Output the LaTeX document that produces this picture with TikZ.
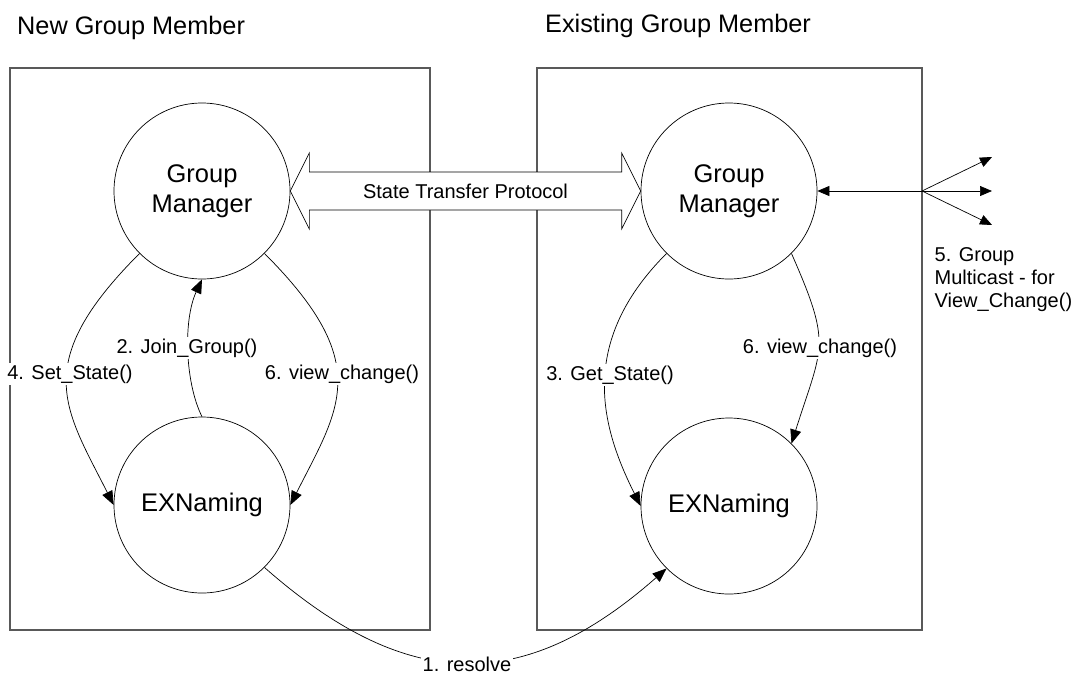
\documentclass[tikz,border=0pt]{standalone}
\usepackage{fontspec}
\setmainfont{Liberation Sans}
\usetikzlibrary{arrows.meta,calc}
\begin{document}
\begin{tikzpicture}[x=1pt,y=-1pt,
  panel/.style={draw=black!65,line width=1.2pt},
  proc/.style={draw,circle,line width=0.7pt,minimum size=176pt,inner sep=0pt,
    align=center,font=\fontsize{25.5}{30}\selectfont},
  call/.style={line width=0.7pt,-{Triangle[length=14pt,width=11pt]}},
  fanarrow/.style={line width=0.7pt,-{Triangle[length=12pt,width=10pt]}},
  lbl/.style={fill=white,inner sep=1.5pt,font=\fontsize{20}{23}\selectfont},
  title/.style={anchor=base west,inner sep=0pt,font=\fontsize{25.3}{29}\selectfont}]
\useasboundingbox (0,0) rectangle (1085,675);

% the two member panels
\draw[panel] (10,68) rectangle (430,630);
\draw[panel] (537,68) rectangle (922,630);
\node[title] (tNew) at (17,34) {New Group Member};
\node[title] (tOld) at (545,32) {Existing Group Member};

% processes
\node[proc] (gmL) at (202,191) {Group\\Manager};
\node[proc] (exL) at (202,505) {EXNaming};
\node[proc] (gmR) at (729,191) {Group\\Manager};
\node[proc] (exR) at (729,506) {EXNaming};

% state transfer block arrow between the group managers
\draw[line width=0.7pt,fill=white]
  (gmL.east) -- ++(19,-38) |- ($(gmR.west)+(-19,-19)$) -- ++(0,-19)
  -- (gmR.west) -- ++(-19,38) |- ($(gmL.east)+(19,19)$) -- ++(0,19) -- cycle;
\node[font=\fontsize{20}{23}\selectfont] (stp) at ($(gmL.east)!0.5!(gmR.west)$) {State Transfer Protocol};

% calls inside the new member
\draw[call] (gmL.225) .. controls +(-110,110) and +(-49,-97) .. (exL.west);
\draw[call] (exL.north) .. controls +(-17,-34) and +(-19,41) .. (gmL.south);
\draw[call] (gmL.-45) .. controls +(110,110) and +(49,-97) .. (exL.east);

% calls inside the existing member
\draw[call] (gmR.225) .. controls +(-90,90) and +(-39,-78) .. (exR.west);
\draw[call] (gmR.-45) .. controls +(41,93) and +(31,-98) .. (exR.45);

% name resolution across members
\draw[call] (exL.-45) .. controls +(143,126) and +(-143,126) .. (exR.225);

% call labels
\node[lbl] (l4) at (70,374) {4. Set\_State()};
\node[lbl] (l2) at (187,348) {2. Join\_Group()};
\node[lbl] (l6a) at (342,374) {6. view\_change()};
\node[lbl] (l3) at (610,375) {3. Get\_State()};
\node[lbl] (l6b) at (820,348) {6. view\_change()};
\node[lbl] (l1) at (467,664) {1. resolve};

% group multicast fan-out
\coordinate (fan) at (922,191);
\coordinate (m1) at (992,157);
\coordinate (m2) at (992,191);
\coordinate (m3) at (992,225);
\draw[line width=0.7pt,{Triangle[length=12pt,width=10pt]}-{Triangle[length=12pt,width=10pt]}] (gmR.east) -- (m2);
\draw[fanarrow] (fan) -- (m1);
\draw[fanarrow] (fan) -- (m3);
\node[lbl,anchor=west,align=left] (l5) at (933,280) {5. Group\\Multicast - for\\View\_Change()};
\end{tikzpicture}
\end{document}
